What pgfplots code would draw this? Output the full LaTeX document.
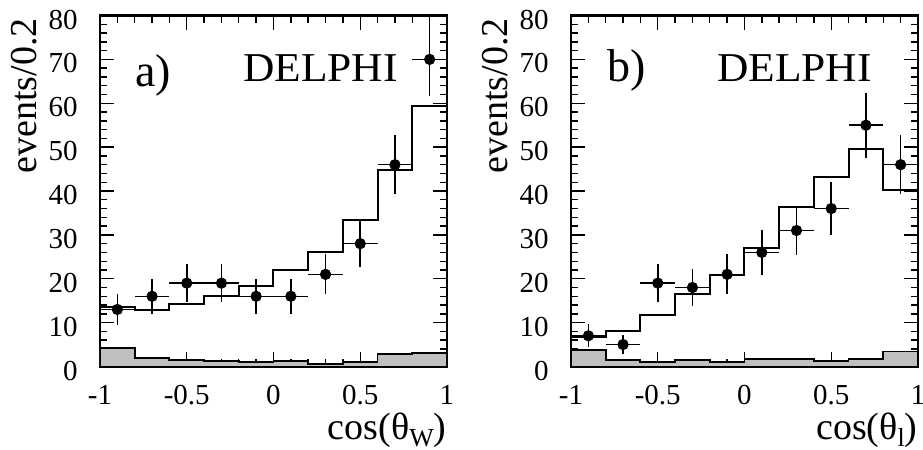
\documentclass[border=0pt]{standalone}
\usepackage{pgfplots}
\pgfplotsset{compat=1.18}
\usepackage{pgfplotstable}
\usepackage{fontspec}
\setmainfont{Liberation Serif}

% left panel: MC histogram (bin left edges, last value repeated at x=1)
\pgfplotstableread{
x y
-1.0 13.5
-0.8 12.8
-0.6 14.3
-0.4 16.0
-0.2 18.3
0.0 22.0
0.2 26.0
0.4 33.3
0.6 44.7
0.8 59.3
1.0 59.3
}\mcA
\pgfplotstableread{
x y
-1.0 4.2
-0.8 1.9
-0.6 1.5
-0.4 1.3
-0.2 1.0
0.0 1.3
0.2 0.5
0.4 1.1
0.6 2.8
0.8 3.1
1.0 3.1
}\bgA
\pgfplotstableread{
x y e
-0.9 13 3.61
-0.7 16 4.00
-0.5 19 4.36
-0.3 19 4.36
-0.1 16 4.00
0.1 16 4.00
0.3 21 4.58
0.5 28 5.29
0.7 46 6.78
0.9 70 8.37
}\dataA

% right panel
\pgfplotstableread{
x y
-1.0 6.8
-0.8 8.2
-0.6 11.7
-0.4 16.5
-0.2 20.9
0.0 26.9
0.2 36.3
0.4 43.1
0.6 49.6
0.8 40.2
1.0 40.2
}\mcB
\pgfplotstableread{
x y
-1.0 3.8
-0.8 1.5
-0.6 1.1
-0.4 1.5
-0.2 1.1
0.0 1.7
0.2 1.7
0.4 1.3
0.6 1.7
0.8 3.4
1.0 3.4
}\bgB
\pgfplotstableread{
x y e
-0.9 7 2.65
-0.7 5 2.24
-0.5 19 4.36
-0.3 18 4.24
-0.1 21 4.58
0.1 26 5.10
0.3 31 5.57
0.5 36 6.00
0.7 55 7.42
0.9 46 6.78
}\dataB

\pgfplotsset{
  delphi/.style={
    scale only axis, width=173.5pt, height=175.5pt,
    xmin=-1, xmax=1, ymin=0, ymax=80,
    xtick={-1,-0.5,0,0.5,1}, ytick={0,10,...,80},
    minor x tick num=4, minor y tick num=4,
    tick align=inside, major tick length=7pt, minor tick length=3.5pt,
    axis line style={line width=1.1pt},
    every tick/.style={black, line width=0.7pt},
    /pgf/number format/assume math mode=true,
    tick label style={font=\fontsize{14.5}{14.5}\selectfont},
    xticklabel style={anchor=base, yshift=-19.25pt, inner sep=0pt},
    yticklabel style={anchor=east, inner sep=0pt, xshift=-11pt, yshift=-2pt},
    every axis x label/.style={at={(axis description cs:1,-0.207)}, anchor=base east, inner sep=0pt, font=\fontsize{19}{19}\selectfont},
    every axis y label/.style={at={(axis description cs:-0.1844,0.993)}, rotate=90, anchor=base east, inner sep=0pt, font=\fontsize{19}{19}\selectfont},
    ylabel={events/0.2},
  },
  hist/.style={const plot, black, line width=1pt},
  bgfill/.style={const plot, fill=black!25, draw=black, line width=0.9pt},
  pts/.style={only marks, mark=*, mark size=2.6pt, black,
    error bars/.cd, x dir=both, x fixed=0.1, y dir=both, y explicit,
    error mark=none, error bar style={line width=0.8pt, black}},
}
\tikzset{
  lab/.style={anchor=base west, inner sep=0pt, font=\fontsize{23}{23}\selectfont},
  dl/.style={anchor=base east, inner sep=0pt, font=\fontsize{20.5}{20.5}\selectfont},
}

\begin{document}
\begin{tikzpicture}
\useasboundingbox (-50pt,-41.5pt) rectangle (411.5pt,183.25pt);
\begin{axis}[delphi, at={(0,0)}, anchor=south west,
  xlabel={cos(θ\raisebox{-3.5pt}{\fontsize{13}{13}\selectfont W})}]
  \addplot[bgfill] table[x=x,y=y] {\bgA} \closedcycle;
  \addplot[hist] table[x=x,y=y] {\mcA};
  \addplot[pts] table[x=x,y=y,y error=e] {\dataA};
  \node[lab] at (axis cs:-0.798,63.9) {a)};
  \node[dl] at (axis cs:0.7176,64.9) {\scalebox{1.06}[1]{DELPHI}};
\end{axis}
\begin{axis}[delphi, at={(235.5pt,0)}, anchor=south west,
  xlabel={cos(θ\raisebox{-3.5pt}{\fontsize{13}{13}\selectfont l})}]
  \addplot[bgfill] table[x=x,y=y] {\bgB} \closedcycle;
  \addplot[hist] table[x=x,y=y] {\mcB};
  \addplot[pts] table[x=x,y=y,y error=e] {\dataB};
  \node[lab] at (axis cs:-0.792,64.9) {b)};
  \node[dl] at (axis cs:0.735,64.9) {\scalebox{1.06}[1]{DELPHI}};
\end{axis}
\end{tikzpicture}
\end{document}
